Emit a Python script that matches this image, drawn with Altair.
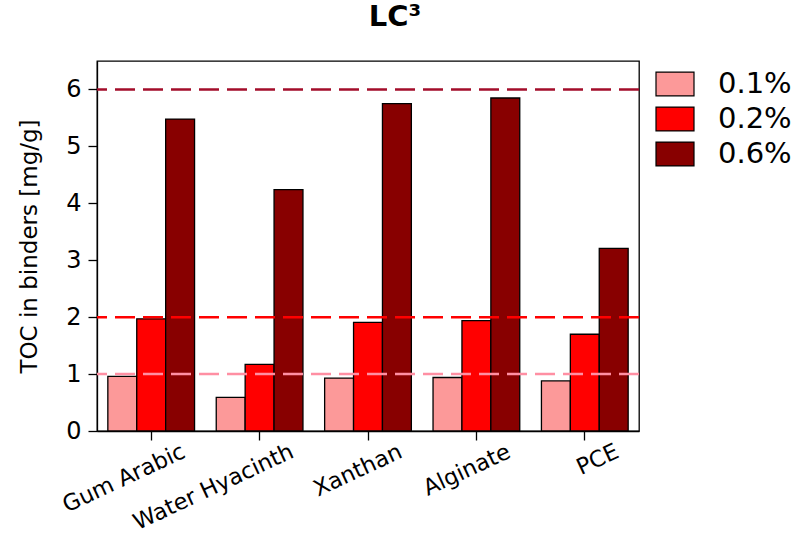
import altair as alt
import pandas as pd

# Binder types and dosage levels
binders = ["Gum Arabic", "Water Hyacinth", "Xanthan", "Alginate", "PCE"]
dosages = ["0.1%", "0.2%", "0.6%"]

# TOC adsorbed in binders [mg/g], one list per dosage
toc_01 = [0.96, 0.59, 0.93, 0.94, 0.88]
toc_02 = [1.97, 1.17, 1.91, 1.94, 1.70]
toc_06 = [5.48, 4.24, 5.75, 5.85, 3.21]

# Dashed reference levels and their colours
ref_levels = [1, 2, 6]
ref_colors = ["#ff8fa3", "#ff0000", "#a30d2a"]

bar_colors = ["#fc9999", "#ff0000", "#880000"]
FONT = "DejaVu Sans"

rows = []
for dose, vals in zip(dosages, [toc_01, toc_02, toc_06]):
    for b, v in zip(binders, vals):
        rows.append({"binder": b, "dosage": dose, "toc": v})
bars_df = pd.DataFrame(rows)
ref_df = pd.DataFrame({"level": ref_levels, "color": ref_colors})

y_scale = alt.Scale(domain=[0, 6.5], nice=False)

bars = alt.Chart(bars_df).mark_bar(stroke="black", strokeWidth=1.3).encode(
    x=alt.X(
        "binder:N",
        sort=binders,
        scale=alt.Scale(paddingInner=0.2, paddingOuter=0.1),
        axis=alt.Axis(
            title=None,
            labelAngle=335,
            labelAlign="right",
            labelBaseline="top",
            labelOffset=28,
            labelPadding=0,
            labelFontSize=22.5,
            tickSize=9,
        ),
    ),
    xOffset=alt.XOffset("dosage:N", sort=dosages),
    y=alt.Y(
        "toc:Q",
        scale=y_scale,
        axis=alt.Axis(
            title="TOC in binders [mg/g]",
            values=[0, 1, 2, 3, 4, 5, 6],
            format="d",
            labelFontSize=24,
            titleFontSize=23,
            titleFontWeight="normal",
            tickSize=9,
            labelPadding=7,
            titlePadding=24,
        ),
    ),
    color=alt.Color(
        "dosage:N",
        sort=dosages,
        scale=alt.Scale(domain=dosages, range=bar_colors),
        legend=alt.Legend(
            title=None,
            orient="none",
            legendX=558,
            legendY=3,
            padding=0,
            symbolType="M-1,-0.63H1V0.63H-1Z",
            symbolSize=1444,
            symbolStrokeColor="black",
            symbolStrokeWidth=1.2,
            symbolOpacity=1,
            labelFontSize=29,
            labelOffset=23,
            rowPadding=-1.5,
        ),
    ),
)

rules = alt.Chart(ref_df).mark_rule(strokeDash=[20, 8], strokeWidth=2.5).encode(
    y=alt.Y("level:Q", scale=y_scale),
    color=alt.Color("color:N", scale=None),
)

chart = (
    alt.layer(bars, rules)
    .properties(
        width=542,
        height=370,
        title=alt.TitleParams(
            text="LC³", fontSize=29, fontWeight="bold", font=FONT, dx=27, offset=29
        ),
        autosize=alt.AutoSizeParams(type="none"),
        padding={"left": 97, "top": 61, "right": 159, "bottom": 104},
    )
    .configure(font=FONT)
    .configure_view(stroke="black", strokeWidth=1.3)
    .configure_axis(
        grid=False,
        domainColor="black",
        tickColor="black",
        labelColor="black",
        titleColor="black",
        labelFont=FONT,
        titleFont=FONT,
        domainWidth=1.3,
        tickWidth=1.3,
    )
    .configure_legend(labelFont=FONT, labelColor="black")
)

chart.save("out.html", embed_options={"renderer": "svg", "actions": False})
